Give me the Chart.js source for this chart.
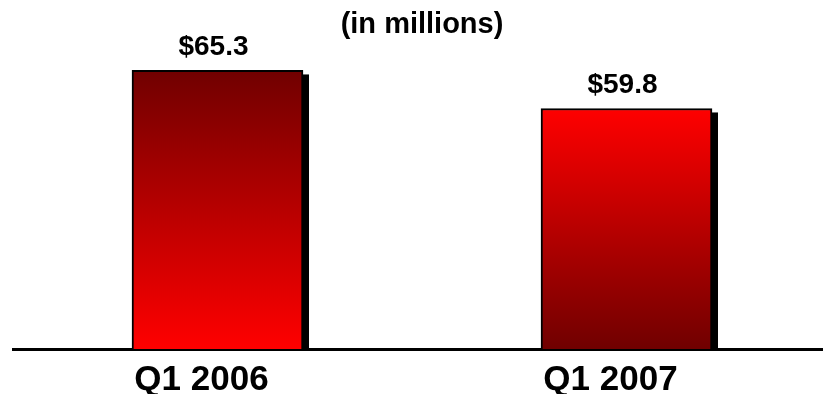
<!DOCTYPE html>
<html>
<head>
<meta charset="utf-8">
<title>Revenue Q1</title>
<script src="https://cdn.jsdelivr.net/npm/chart.js@4"></script>
<style>
    html, body {
        margin: 0;
        padding: 0;
        background: #fff;
        overflow: hidden;
    }
    #wrap {
        position: relative;
        width: 831px;
        height: 394px;
    }
</style>
</head>
<body>
<div id="wrap">
    <canvas id="myChart"></canvas>
</div>
<script>
    const quarters = ['Q1 2006', 'Q1 2007'];
    const revenue = [65.3, 59.8];
    // gradient ends for each bar (top -> bottom)
    const topColors = ['#700000', '#ff0000'];
    const bottomColors = ['#ff0000', '#700000'];

    const FONT = "'Liberation Sans', Arial, sans-serif";

    function barGradient(context) {
        const chart = context.chart;
        const {ctx, chartArea, scales} = chart;
        if (!chartArea) {
            return bottomColors[context.dataIndex];
        }
        const top = scales.y.getPixelForValue(revenue[context.dataIndex]);
        const g = ctx.createLinearGradient(0, top, 0, chartArea.bottom);
        g.addColorStop(0, topColors[context.dataIndex]);
        g.addColorStop(1, bottomColors[context.dataIndex]);
        return g;
    }

    // black drop shadow behind the bars + value labels above them
    const barDecor = {
        id: 'barDecor',
        beforeDatasetsDraw(chart) {
            const ctx = chart.ctx;
            const area = chart.chartArea;
            ctx.save();
            ctx.fillStyle = '#000';
            chart.getDatasetMeta(0).data.forEach(bar => {
                const w = bar.width;
                const left = bar.x - w / 2 + 6;
                const top = bar.y + 4;
                ctx.fillRect(left, top, w, area.bottom - top);
            });
            ctx.restore();
        },
        afterDatasetsDraw(chart) {
            const ctx = chart.ctx;
            ctx.save();
            ctx.font = 'bold 28px ' + FONT;
            ctx.fillStyle = '#000';
            ctx.textAlign = 'center';
            ctx.textBaseline = 'middle';
            chart.getDatasetMeta(0).data.forEach((bar, i) => {
                ctx.fillText('$' + revenue[i].toFixed(1), bar.x - 4, bar.y - 23);
            });
            ctx.restore();
        }
    };

    const ctxRevenue = document.getElementById('myChart');

    new Chart(ctxRevenue, {
        type: 'bar',
        data: {
            labels: quarters,
            datasets: [{
                data: revenue,
                backgroundColor: barGradient,
                borderColor: '#000',
                borderWidth: 2,
                borderSkipped: 'bottom',
                barThickness: 171,
                clip: 0
            }]
        },
        options: {
            responsive: true,
            maintainAspectRatio: false,
            animation: false,
            layout: {
                padding: {left: 13, right: 0, top: 0, bottom: 0}
            },
            plugins: {
                legend: {display: false},
                tooltip: {enabled: false},
                title: {
                    display: true,
                    text: '(in millions)',
                    color: '#000',
                    font: {family: FONT, size: 29, weight: 'bold', lineHeight: 1.2},
                    padding: {top: 8, bottom: 0}
                }
            },
            scales: {
                x: {
                    z: 1,
                    grid: {display: false, drawTicks: false},
                    border: {display: true, color: '#000', width: 3},
                    ticks: {
                        color: '#000',
                        font: {family: FONT, size: 35, weight: 'bold'},
                        padding: 10,
                        labelOffset: -16
                    },
                    afterFit(axis) {
                        axis.height = 45;
                    }
                },
                y: {
                    display: false,
                    min: 25,
                    max: 69.3
                }
            }
        },
        plugins: [barDecor]
    });
</script>
</body>
</html>
